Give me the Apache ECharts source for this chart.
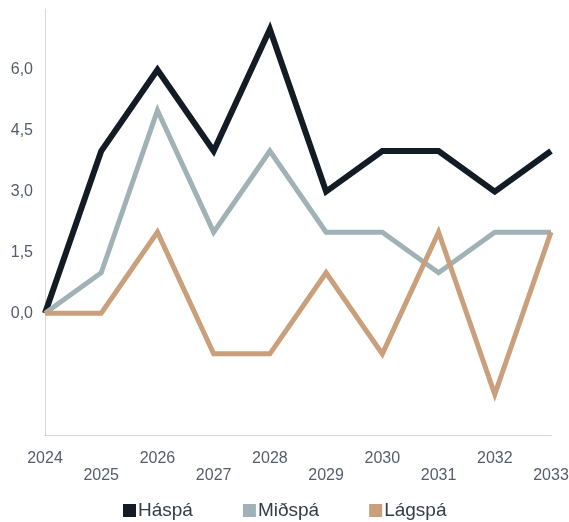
<!DOCTYPE html>
<html><head><meta charset="utf-8">
<script src="https://cdn.jsdelivr.net/npm/echarts@6/dist/echarts.min.js"></script>
<style>html,body{margin:0;padding:0;background:#fff}#c{width:569px;height:522px}</style>
</head><body><div id="c"></div>
<script>
var years = ['2024','2025','2026','2027','2028','2029','2030','2031','2032','2033'];
var haspa = [0, 4, 6, 4, 7, 3, 4, 4, 3, 4];
var midspa = [0, 1, 5, 2, 4, 2, 2, 1, 2, 2];
var lagspa = [0, 0, 2, -1, -1, 1, -1, 2, -2, 2];
var yTicks = [0, 1.5, 3, 4.5, 6];

var chart = echarts.init(document.getElementById('c'));
function ser(name, data, color, w) {
  return { name: name, type: 'line', data: data, symbol: 'none',
    lineStyle: { width: w, color: color, join: 'miter' }, itemStyle: { color: color } };
}
chart.setOption({
  animation: false,
  grid: { left: 45, right: 18, top: 9, bottom: 87, outerBoundsMode: 'none', containLabel: false },
  legend: {
    top: 496, left: 118, itemWidth: 13, itemHeight: 13, itemGap: 50, icon: 'rect',
    textStyle: { fontFamily: 'Liberation Sans, Arial', fontSize: 19, color: '#333c48', padding: [0,0,0,-3] },
    data: ['Háspá', 'Miðspá', 'Lágspá']
  },
  xAxis: {
    type: 'category', data: years, boundaryGap: false,
    axisLine: { onZero: false, lineStyle: { color: '#d3d6de', width: 1 } },
    axisTick: { show: false },
    axisLabel: {
      interval: 0, margin: 15, fontSize: 16, lineHeight: 17, color: '#555d6b', fontFamily: 'Liberation Sans, Arial',
      formatter: function (v, i) { return i % 2 ? '\n' + v : v; }
    }
  },
  yAxis: {
    type: 'value', min: -3, max: 7.5, interval: 1.5,
    splitLine: { show: false },
    axisLine: { show: true, lineStyle: { color: '#d3d6de', width: 1 } },
    axisTick: { show: false },
    axisLabel: {
      margin: 12, fontSize: 16, color: '#555d6b', fontFamily: 'Liberation Sans, Arial',
      formatter: function (v) {
        for (var i = 0; i < yTicks.length; i++) if (Math.abs(yTicks[i] - v) < 1e-6) return v.toFixed(1).replace('.', ',');
        return '';
      }
    }
  },
  series: [
    ser('Háspá', haspa, '#131c24', 6),
    ser('Miðspá', midspa, '#a0b2b6', 5),
    ser('Lágspá', lagspa, '#c9a07b', 5)
  ]
});
</script></body></html>
